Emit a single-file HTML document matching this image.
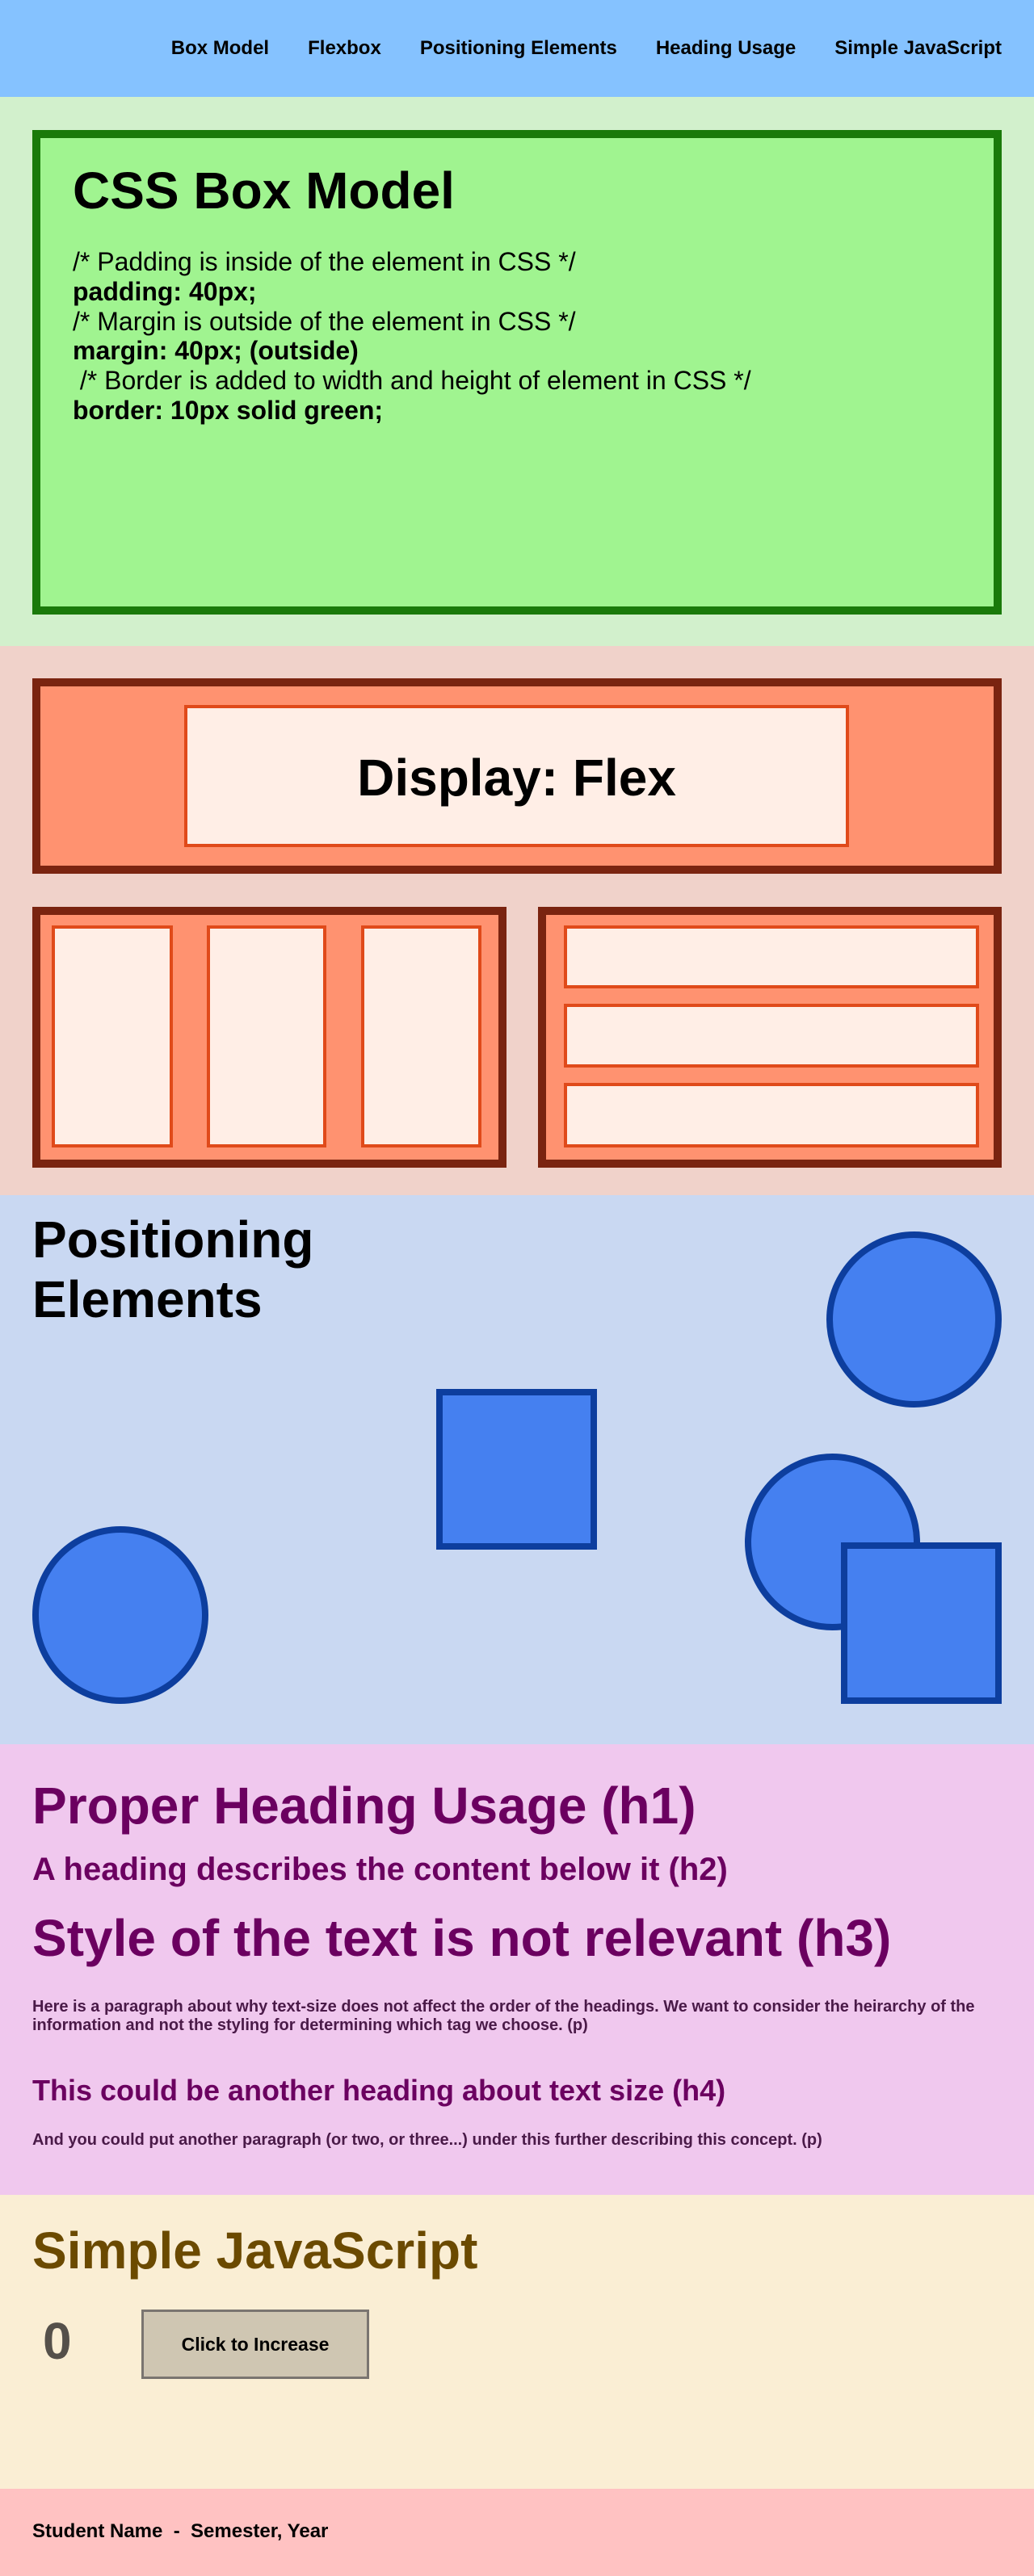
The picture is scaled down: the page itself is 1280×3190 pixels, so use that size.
<!DOCTYPE html>
<html><head><meta charset="utf-8"><style>
*{margin:0;padding:0;box-sizing:border-box}
body{width:1280px;height:3190px;position:relative;font-family:"Liberation Sans",Arial,sans-serif;overflow:hidden}
.abs{position:absolute}
.t{position:absolute;white-space:nowrap;line-height:1.15;font-weight:bold}
.sec{position:absolute;left:0;width:1280px}
.circle{position:absolute;border-radius:50%;background:#4580f0;border:8px solid #0d3e9e}
.sq{position:absolute;background:#4580f0;border:8px solid #0d3e9e}
.in{position:absolute;background:#ffeee6;border:4px solid #e04a1a}
</style></head><body>
<nav class="sec" style="top:0;height:120px;background:#85c2ff">
  <div class="abs" style="right:40px;top:46px;display:flex;gap:48px;font-size:24px;font-weight:bold;line-height:1.15;color:#000">
    <span>Box Model</span>
    <span>Flexbox</span>
    <span>Positioning Elements</span>
    <span>Heading Usage</span>
    <span>Simple JavaScript</span>
  </div>
</nav>
<section class="sec" style="top:120px;height:680px;background:#d2f0cc">
  <div class="abs" style="left:40px;top:41px;width:1200px;height:600px;background:#a0f490;border:10px solid #1a7a0a"></div>
  <div class="t" style="left:90px;top:80px;font-size:64px">CSS Box Model</div>
  <div class="abs" style="left:90px;top:186px;font-size:32px;line-height:36.8px;white-space:pre">/* Padding is inside of the element in CSS */
<b>padding: 40px;</b>
/* Margin is outside of the element in CSS */
<b>margin: 40px; (outside)</b>
 /* Border is added to width and height of element in CSS */
<b>border: 10px solid green;</b></div>
</section>
<section class="sec" style="top:800px;height:680px;background:#f0d2ca">
  <div class="abs" style="left:40px;top:40px;width:1200px;height:242px;background:#ff9270;border:10px solid #7a2410"></div>
  <div class="in" style="left:228px;top:73px;width:823px;height:176px"></div>
  <div class="t" style="left:228px;width:823px;text-align:center;top:127px;font-size:64px">Display: Flex</div>
  <div class="abs" style="left:40px;top:323px;width:587px;height:323px;background:#ff9270;border:10px solid #7a2410"></div>
  <div class="in" style="left:64px;top:346px;width:150px;height:275px"></div>
  <div class="in" style="left:256px;top:346px;width:148px;height:275px"></div>
  <div class="in" style="left:447px;top:346px;width:149px;height:275px"></div>
  <div class="abs" style="left:666px;top:323px;width:574px;height:323px;background:#ff9270;border:10px solid #7a2410"></div>
  <div class="in" style="left:698px;top:346px;width:514px;height:78px"></div>
  <div class="in" style="left:698px;top:443px;width:514px;height:79px"></div>
  <div class="in" style="left:698px;top:541px;width:514px;height:80px"></div>
</section>
<section class="sec" style="top:1480px;height:680px;background:#c9d8f2">
  <div class="t" style="left:40px;top:18px;font-size:64px;line-height:74px">Positioning<br>Elements</div>
  <div class="circle" style="left:1023px;top:45px;width:217px;height:218px"></div>
  <div class="sq" style="left:540px;top:240px;width:199px;height:199px"></div>
  <div class="circle" style="left:922px;top:320px;width:217px;height:219px"></div>
  <div class="sq" style="left:1041px;top:430px;width:199px;height:200px"></div>
  <div class="circle" style="left:40px;top:410px;width:218px;height:220px"></div>
</section>
<section class="sec" style="top:2160px;height:558px;background:#f0c8ee;color:#6b0060">
  <div class="t" style="left:40px;top:40px;font-size:64px">Proper Heading Usage (h1)</div>
  <div class="t" style="left:40px;top:132px;font-size:40px">A heading describes the content below it (h2)</div>
  <div class="t" style="left:40px;top:204px;font-size:64px">Style of the text is not relevant (h3)</div>
  <p class="abs" style="left:40px;top:314px;width:1200px;font-size:20px;line-height:23px;font-weight:bold;color:#4a1a48">Here is a paragraph about why text-size does not affect the order of the headings. We want to consider the heirarchy of the information and not the styling for determining which tag we choose. (p)</p>
  <div class="t" style="left:40px;top:408px;font-size:36px">This could be another heading about text size (h4)</div>
  <p class="t" style="left:40px;top:479px;font-size:20px;color:#4a1a48">And you could put another paragraph (or two, or three...) under this further describing this concept. (p)</p>
</section>
<section class="sec" style="top:2718px;height:364px;background:#faeed4">
  <div class="t" style="left:40px;top:33px;font-size:64px;color:#6b4a00">Simple JavaScript</div>
  <div class="t" id="count" style="left:53px;top:145px;font-size:64px;color:#55504a">0</div>
  <button id="btn" style="position:absolute;left:175px;top:142px;width:282px;height:86px;background:#cfc6b2;border:3px solid #7a7570;font-family:'Liberation Sans',Arial,sans-serif;font-weight:bold;font-size:23px;color:#000">Click to Increase</button>
</section>
<footer class="sec" style="top:3082px;height:108px;background:#ffc2c2">
  <div class="t" style="left:40px;top:39px;font-size:24px;white-space:pre">Student Name  -  Semester, Year</div>
</footer>
<script>
var c=0;document.getElementById('btn').onclick=function(){c++;document.getElementById('count').textContent=c;};
</script>
</body></html>
